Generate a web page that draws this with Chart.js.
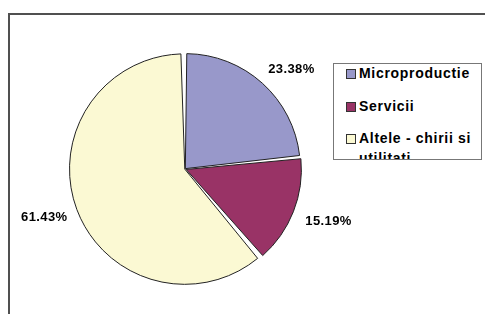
<!DOCTYPE html>
<html lang="ro">
<head>
    <meta charset="UTF-8">
    <title>Structura</title>
    <script src="https://cdn.jsdelivr.net/npm/chart.js"></script>
    <style>
        html, body {
            margin: 0;
            padding: 0;
            width: 485px;
            height: 314px;
            overflow: hidden;
            background: #fff;
            font-family: "Liberation Sans", Arial, sans-serif;
        }
        .frame {
            position: absolute;
            left: 8px;
            top: 13px;
            width: 600px;
            height: 400px;
            border-left: 2px solid #505050;
            border-top: 2px solid #505050;
        }
        #pie {
            position: absolute;
            left: 0;
            top: 0;
        }
        .legend {
            position: absolute;
            left: 333px;
            top: 63px;
            width: 147px;
            height: 95px;
            border: 1px solid #777;
            background: #fff;
            overflow: hidden;
        }
        .legend .sw {
            position: absolute;
            left: 12px;
            width: 8px;
            height: 8px;
            border: 1px solid #333;
        }
        .legend .txt {
            position: absolute;
            left: 25px;
            width: 118px;
            font-size: 14px;
            font-weight: bold;
            line-height: 20px;
            letter-spacing: 0.7px;
            color: #000;
        }
    </style>
</head>
<body>
    <div class="frame"></div>
    <canvas id="pie" width="485" height="314"></canvas>
    <div class="legend" id="legend"></div>

    <script>
        // date
        const categorii = ['Microproductie', 'Servicii', 'Altele - chirii si utilitati'];
        const procente = [23.38, 15.19, 61.43];
        const culori = ['#9898ca', '#993366', '#fbf9d3'];
        const desprindere = [2, 5, 1];

        // etichete procentuale in afara feliilor
        const eticheteProcente = {
            id: 'eticheteProcente',
            afterDatasetsDraw(chart) {
                const ctx = chart.ctx;
                const arcs = chart.getDatasetMeta(0).data;
                ctx.save();
                ctx.font = 'bold 13px "Liberation Sans", Arial, sans-serif';
                ctx.letterSpacing = '0.4px';
                ctx.fillStyle = '#000';
                ctx.textAlign = 'center';
                ctx.textBaseline = 'middle';
                arcs.forEach((arc, i) => {
                    const mid = (arc.startAngle + arc.endAngle) / 2;
                    const dx = Math.cos(mid), dy = Math.sin(mid);
                    const text = procente[i].toFixed(2) + '%';
                    const w = ctx.measureText(text).width;
                    const r = arc.outerRadius + 15 + desprindere[i];
                    const x = arc.x + r * dx + dx * w / 2 + 3 * (i === 0 ? 1 : -dx);
                    const y = arc.y + r * dy + dy * 5 + 1;
                    ctx.fillText(text, x, y);
                });
                ctx.restore();
            }
        };

        new Chart(document.getElementById('pie'), {
            type: 'pie',
            data: {
                labels: categorii,
                datasets: [{
                    data: procente,
                    backgroundColor: culori,
                    borderColor: '#222',
                    borderWidth: 1,
                    offset: desprindere,
                    spacing: 2
                }]
            },
            options: {
                responsive: false,
                animation: false,
                radius: 114,
                events: [],
                layout: {
                    padding: { left: 0, right: 115, top: 24, bottom: 0 }
                },
                plugins: {
                    legend: { display: false },
                    tooltip: { enabled: false }
                }
            },
            plugins: [eticheteProcente]
        });

        // legenda construita din aceleasi tablouri
        const legend = document.getElementById('legend');
        categorii.forEach((nume, i) => {
            const top = -1 + Math.round(i * 32.5);
            const sw = document.createElement('div');
            sw.className = 'sw';
            sw.style.top = (top + 6) + 'px';
            sw.style.background = culori[i];
            legend.appendChild(sw);
            const t = document.createElement('div');
            t.className = 'txt';
            t.style.top = top + 'px';
            t.textContent = nume;
            legend.appendChild(t);
        });
    </script>
</body>
</html>
